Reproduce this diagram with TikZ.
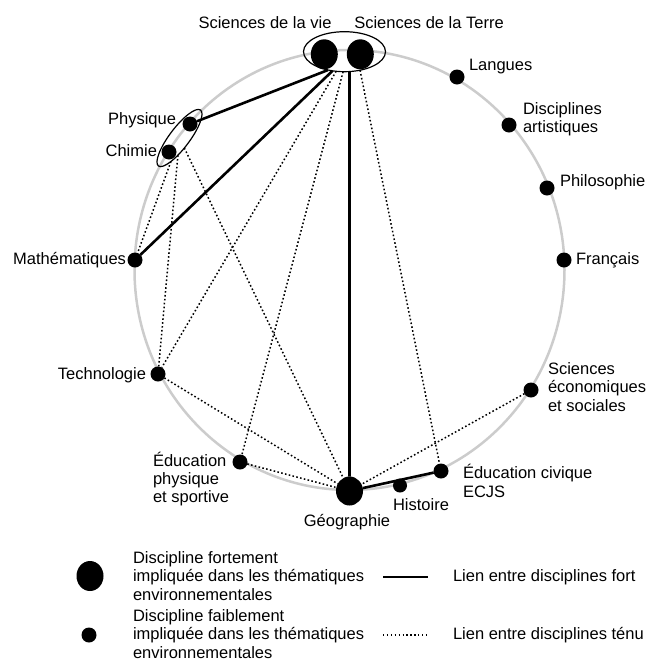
\documentclass[tikz,border=0pt]{standalone}
\usepackage{fontspec}
\setmainfont{Liberation Sans}
\usetikzlibrary{shapes.geometric}
\begin{document}
\begin{tikzpicture}[x=1pt,y=-1pt,
  every node/.style={inner sep=0pt, outer sep=0pt},
  lbl/.style={font=\fontsize{16.5}{18.4}\selectfont, align=left},
  bigdot/.style={ellipse, fill=black, minimum width=27pt, minimum height=30pt},
  smalldot/.style={circle, fill=black, minimum size=15pt},
  grp/.style={ellipse, draw=black, line width=1.2pt},
  strong/.style={line width=2.6pt},
  weak/.style={line width=1.5pt, dash pattern=on 1.6pt off 2.3pt}]
\useasboundingbox (0,0) rectangle (649,662);
% ring
\draw[gray!40, line width=2.5pt] (349.5,270) ellipse [x radius=215, y radius=220];
% disciplines
\node[bigdot] (svie) at (324.3,54.3) {};
\node[bigdot] (sterre) at (360.3,54.3) {};
\node[grp, minimum width=82pt, minimum height=40pt] (sci) at (344.5,51.7) {};
\node[smalldot] (lang) at (457,77) {};
\node[smalldot] (art) at (509,125) {};
\node[smalldot] (philo) at (547,188) {};
\node[smalldot] (fr) at (564,260) {};
\node[smalldot] (seco) at (531,390) {};
\node[smalldot] (civ) at (441,471) {};
\node[smalldot, minimum size=14pt] (hist) at (400,485.5) {};
\node[bigdot, minimum height=29pt] (geo) at (349.5,491) {};
\node[smalldot] (eps) at (240,462) {};
\node[smalldot] (tech) at (158,374) {};
\node[smalldot] (math) at (135,260) {};
\node[smalldot] (phys) at (190,124) {};
\node[smalldot] (chim) at (169,152) {};
\node[grp, minimum width=70pt, minimum height=20pt, rotate=53] (pc) at (179.5,138) {};
% labels
\node[lbl] (tsvie) at (265,23) {Sciences de la vie};
\node[lbl] (tsterre) at (429,23) {Sciences de la Terre};
\node[lbl, anchor=west] (tlang) at (469,67) {Langues};
\node[lbl, anchor=west] (tart) at (523,119) {Disciplines\\artistiques};
\node[lbl, anchor=west] (tphilo) at (560,182) {Philosophie};
\node[lbl, anchor=west] (tfr) at (576,260) {Français};
\node[lbl, anchor=west] (tseco) at (548,387) {Sciences\\économiques\\et sociales};
\node[lbl, anchor=west] (tciv) at (463,481) {Éducation civique\\ECJS};
\node[lbl] (thist) at (421,505) {Histoire};
\node[lbl] (tgeo) at (347,522) {Géographie};
\node[lbl, anchor=west] (teps) at (153,479) {Éducation\\physique\\et sportive};
\node[lbl, anchor=east] (ttech) at (146,375) {Technologie};
\node[lbl, anchor=east] (tmath) at (126,260) {Mathématiques};
\node[lbl, anchor=east] (tphys) at (176,120) {Physique};
\node[lbl, anchor=east] (tchim) at (157,151) {Chimie};
% strong links
\draw[strong] (sci.-132) -- (phys);
\draw[strong] (sci.-122) -- (math);
\draw[strong] (sci.-76) -- (geo);
\draw[strong] (geo) -- (civ);
% weak links
\draw[weak] (sci.-113) -- (tech);
\draw[weak] (sci.-94) -- (eps);
\draw[weak] (sci.-50.5) -- (civ);
\draw[weak] (pc) -- (math);
\draw[weak] (pc) -- (tech);
\draw[weak] (pc) -- (geo);
\draw[weak] (tech) -- (geo);
\draw[weak] (eps) -- (geo);
\draw[weak] (seco) -- (geo);
% legend
\node[bigdot] (lgbig) at (90,576) {};
\node[smalldot] (lgsmall) at (89,635) {};
\node[lbl, anchor=west] (lgt1) at (133,576) {Discipline fortement\\impliquée dans les thématiques\\environnementales};
\node[lbl, anchor=west] (lgt2) at (133,634) {Discipline faiblement\\impliquée dans les thématiques\\environnementales};
\coordinate (ls1) at (383,577);
\coordinate (ls2) at (428,577);
\draw[strong] (ls1) -- (ls2);
\coordinate (lw1) at (383,635);
\coordinate (lw2) at (428,635);
\draw[weak, line width=1.1pt, dash pattern=on 1.3pt off 2.6pt] (lw1) -- (lw2);
\node[lbl, anchor=west] (lf) at (453,577) {Lien entre disciplines fort};
\node[lbl, anchor=west] (lt) at (453,635) {Lien entre disciplines ténu};
\end{tikzpicture}
\end{document}
